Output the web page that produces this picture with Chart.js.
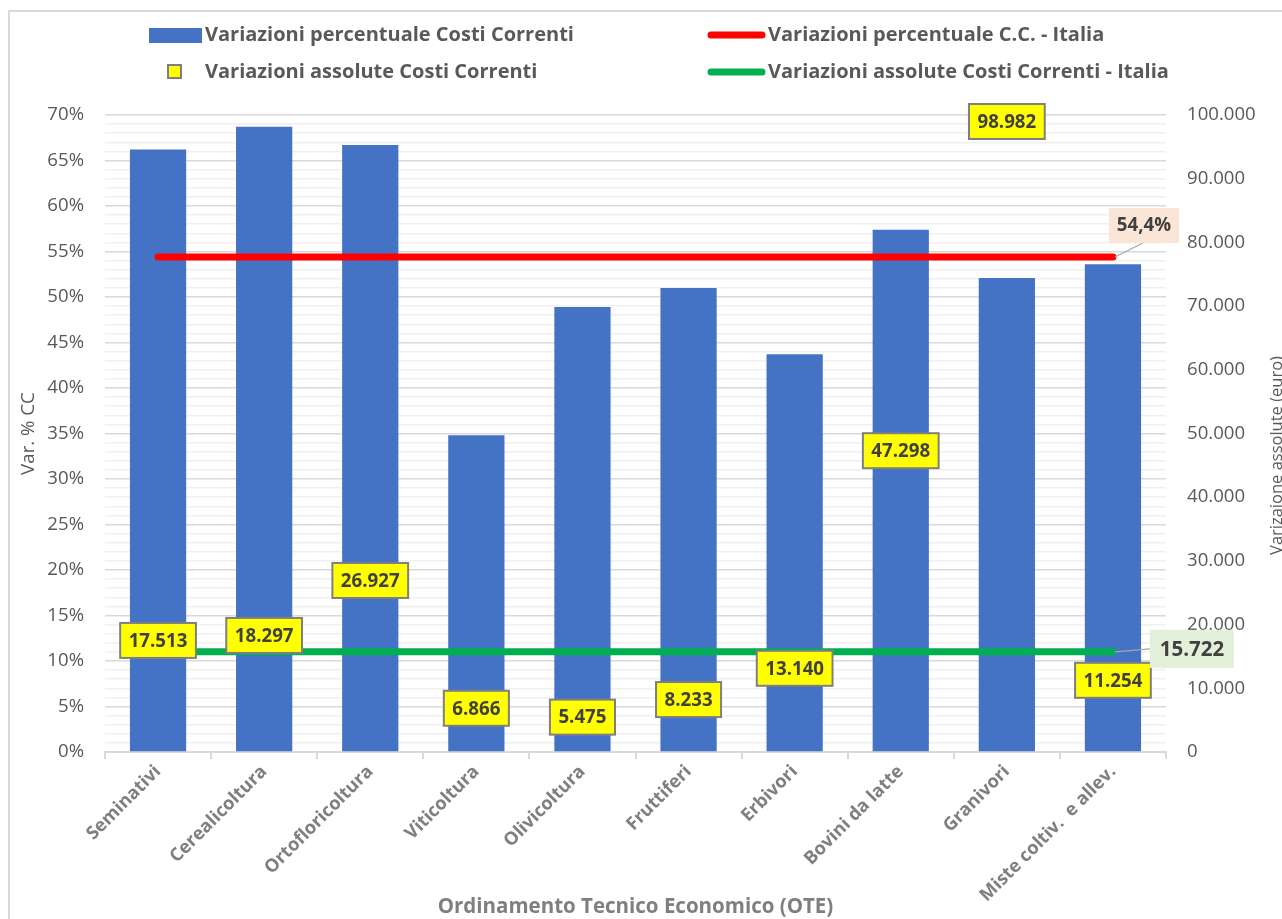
<!DOCTYPE html>
<html>
<head>
<meta charset="utf-8">
<script src="https://cdn.jsdelivr.net/npm/chart.js@4.4.1/dist/chart.umd.min.js"></script>
<style>
html,body{margin:0;padding:0;background:#fff;overflow:hidden}
#wrap{position:relative;width:1282px;height:919px}
canvas{display:block}
</style>
</head>
<body>
<div id="wrap"><canvas id="c" width="1282" height="919"></canvas></div>
<script>
// ---- data ----
const categories = ['Seminativi','Cerealicoltura','Ortofloricoltura','Viticoltura','Olivicoltura','Fruttiferi','Erbivori','Bovini da latte','Granivori','Miste coltiv.  e allev.'];
const percentVariation = [66.2, 68.7, 66.7, 34.8, 48.9, 51.0, 43.7, 57.4, 52.1, 53.6];
const absoluteVariation = [17513, 18297, 26927, 6866, 5475, 8233, 13140, 47298, 98982, 11254];
const italyPercentLine = [54.4, 54.4, 54.4, 54.4, 54.4, 54.4, 54.4, 54.4, 54.4, 54.4];
const italyAbsoluteLine = [15722, 15722, 15722, 15722, 15722, 15722, 15722, 15722, 15722, 15722];
const seriesNames = ['Variazioni percentuale Costi Correnti','Variazioni percentuale C.C. - Italia','Variazioni assolute Costi Correnti','Variazioni assolute Costi Correnti - Italia'];
const leftAxis = {min: 0, max: 70, major: 5, minor: 1};
const rightAxis = {min: 0, max: 100000, step: 10000};
const axisTitles = {left: 'Var. % CC', right: 'Varizaione assolute (euro)', bottom: 'Ordinamento Tecnico Economico (OTE)'};

// ---- helpers ----
const FONT = '"Open Sans", "Noto Sans", sans-serif';
function fmtThousands(n){ return String(n).replace(/\B(?=(\d{3})+(?!\d))/g, '.'); }
function fmtPercent(v){ return v.toFixed(1).replace('.', ',') + '%'; }

const COLORS = {bar:'#4472C4', red:'#FF0000', green:'#00B050', yellow:'#FFFF00', text:'#595959', label:'#404040', axisLabel:'#7f7f7f'};

const decorPlugin = {
  id: 'decor',
  beforeDraw(chart){
    const ctx = chart.ctx;
    ctx.save();
    ctx.strokeStyle = '#d9d9d9';
    ctx.lineWidth = 2;
    ctx.beginPath();
    ctx.moveTo(9, 1000); ctx.lineTo(9, 11); ctx.lineTo(1300, 11);
    ctx.stroke();
    ctx.restore();
  },
  afterDatasetsDraw(chart){
    const ctx = chart.ctx;
    ctx.save();
    ctx.textAlign = 'center';
    ctx.textBaseline = 'middle';
    // yellow data labels
    const ym = chart.getDatasetMeta(3);
    ctx.font = 'bold 18.7px ' + FONT;
    ym.data.forEach((pt, i) => {
      const txt = fmtThousands(absoluteVariation[i]);
      const w = ctx.measureText(txt).width + 17;
      const h = 35;
      ctx.fillStyle = COLORS.yellow;
      ctx.fillRect(pt.x - w/2, pt.y - h/2, w, h);
      ctx.strokeStyle = '#7f7f7f';
      ctx.lineWidth = 2;
      ctx.strokeRect(pt.x - w/2, pt.y - h/2, w, h);
      ctx.fillStyle = COLORS.label;
      ctx.fillText(txt, pt.x, pt.y + 1);
    });
    // red line label
    const rm = chart.getDatasetMeta(1);
    const rp = rm.data[rm.data.length - 1];
    ctx.strokeStyle = '#a6a6a6';
    ctx.lineWidth = 1.2;
    ctx.beginPath(); ctx.moveTo(rp.x + 2, rp.y); ctx.lineTo(rp.x + 30, rp.y - 14); ctx.stroke();
    ctx.fillStyle = '#FBE5D6';
    ctx.fillRect(rp.x - 4, rp.y - 49, 70, 35);
    ctx.fillStyle = COLORS.label;
    ctx.font = 'bold 18.7px ' + FONT;
    ctx.fillText(fmtPercent(italyPercentLine[italyPercentLine.length-1]), rp.x + 31, rp.y - 31);
    // green line label
    const gm = chart.getDatasetMeta(2);
    const gp = gm.data[gm.data.length - 1];
    ctx.strokeStyle = '#a6a6a6';
    ctx.beginPath(); ctx.moveTo(gp.x + 2, gp.y); ctx.lineTo(gp.x + 37, gp.y - 3); ctx.stroke();
    ctx.fillStyle = '#E2F0D9';
    ctx.fillRect(gp.x + 37, gp.y - 22, 84, 38);
    ctx.fillStyle = COLORS.label;
    ctx.font = 'bold 20.5px ' + FONT;
    ctx.fillText(fmtThousands(italyAbsoluteLine[italyAbsoluteLine.length-1]), gp.x + 79, gp.y - 2);
    ctx.restore();
  },
  afterDraw(chart){
    const ctx = chart.ctx;
    ctx.save();
    // legend
    ctx.font = 'bold 20px ' + FONT;
    ctx.textBaseline = 'middle';
    ctx.textAlign = 'left';
    ctx.fillStyle = COLORS.bar;
    ctx.fillRect(149, 28, 53, 15);
    ctx.fillStyle = COLORS.text;
    ctx.fillText(seriesNames[0], 205, 35);
    ctx.lineCap = 'round';
    ctx.lineWidth = 7;
    ctx.strokeStyle = COLORS.red;
    ctx.beginPath(); ctx.moveTo(711, 35); ctx.lineTo(762, 35); ctx.stroke();
    ctx.fillText(seriesNames[1], 768, 35);
    ctx.fillStyle = COLORS.yellow;
    ctx.fillRect(168, 65, 13, 13);
    ctx.strokeStyle = '#7f7f7f';
    ctx.lineWidth = 2;
    ctx.lineCap = 'butt';
    ctx.strokeRect(168, 65, 13, 13);
    ctx.fillStyle = COLORS.text;
    ctx.fillText(seriesNames[2], 205, 72);
    ctx.lineCap = 'round';
    ctx.lineWidth = 7;
    ctx.strokeStyle = COLORS.green;
    ctx.beginPath(); ctx.moveTo(711, 72); ctx.lineTo(762, 72); ctx.stroke();
    ctx.fillText(seriesNames[3], 768, 72);
    // right axis title (reads bottom-to-top)
    const ca = chart.chartArea;
    ctx.translate(1277, (ca.top + ca.bottom) / 2 + 22);
    ctx.rotate(-Math.PI / 2);
    ctx.textAlign = 'center';
    ctx.font = '16.5px ' + FONT;
    ctx.fillStyle = COLORS.text;
    ctx.fillText(axisTitles.right, 0, 0);
    ctx.restore();
  }
};

new Chart(document.getElementById('c'), {
  data: {
    labels: categories,
    datasets: [
      {type:'bar', label: seriesNames[0], data: percentVariation, yAxisID:'y', backgroundColor: COLORS.bar, barPercentage: 0.53, categoryPercentage: 1, order: 3},
      {type:'line', label: seriesNames[1], data: italyPercentLine, yAxisID:'y', borderColor: COLORS.red, borderWidth: 7, borderCapStyle:'round', pointRadius: 0, fill:false, order: 1},
      {type:'line', label: seriesNames[3], data: italyAbsoluteLine, yAxisID:'y1', borderColor: COLORS.green, borderWidth: 7, borderCapStyle:'round', pointRadius: 0, fill:false, order: 1},
      {type:'line', label: seriesNames[2], data: absoluteVariation, yAxisID:'y1', showLine:false, pointRadius: 0, backgroundColor: COLORS.yellow, borderColor:'#7f7f7f', order: 0}
    ]
  },
  options: {
    responsive: false,
    animation: false,
    layout: {padding: {top: 115, left: 0, right: 0, bottom: 0}},
    plugins: {legend: {display:false}, tooltip: {enabled:false}, title:{display:false}},
    scales: {
      x: {
        offset: true,
        grid: {display:true, drawOnChartArea:false, drawTicks:true, tickLength:7, color:'#d9d9d9', lineWidth:2, offset:true},
        border: {display:true, color:'#d9d9d9', width:2},
        ticks: {autoSkip:false, minRotation:45, maxRotation:45, color: COLORS.axisLabel, font:{family:FONT, size:18.2, weight:'bold'}, padding: 2},
        title: {display:true, text: axisTitles.bottom, color: COLORS.axisLabel, font:{family:FONT, size:20.5, weight:'bold'}, padding:{top:0, bottom:0}},
        afterFit(s){ s.height = 167; }
      },
      y: {
        position:'left', min: leftAxis.min, max: leftAxis.max,
        grid: {drawTicks:false, lineWidth:1.5, color: c => (c.tick && c.tick.value % leftAxis.major === 0) ? '#d9d9d9' : '#f0f0f0'},
        border: {display:false},
        ticks: {stepSize: leftAxis.minor, autoSkip:false, maxTicksLimit: 200, padding: 21, color: COLORS.text, font:{family:FONT, size:18.6},
          callback: v => (v % leftAxis.major === 0) ? v + '%' : ''},
        title: {display:true, text: axisTitles.left, color: COLORS.text, font:{family:FONT, size:18.7}, padding:{top:17, bottom:0}},
        afterFit(s){ s.width = 105; }
      },
      y1: {
        position:'right', min: rightAxis.min, max: rightAxis.max,
        grid: {display:false, drawTicks:false},
        border: {display:false},
        ticks: {stepSize: rightAxis.step, autoSkip:false, padding: 21, color: COLORS.text, font:{family:FONT, size:18.6},
          callback: v => fmtThousands(v)},
        afterFit(s){ s.width = 116; }
      }
    }
  },
  plugins: [decorPlugin]
});
</script>
</body>
</html>
